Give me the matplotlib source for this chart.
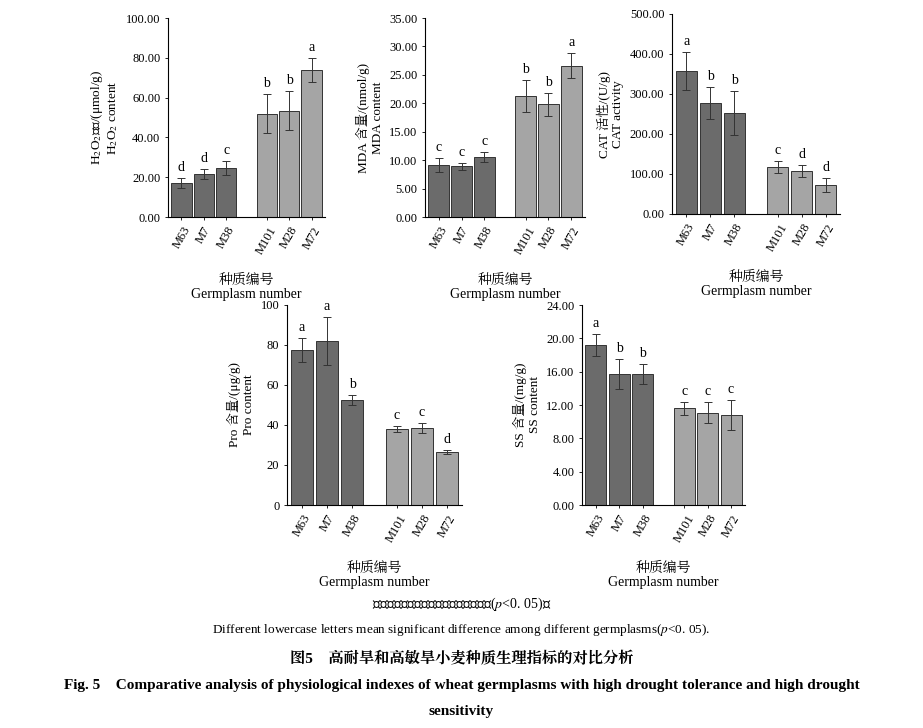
import matplotlib.pyplot as plt

plt.rcParams['font.family'] = ['Liberation Serif', 'Noto Serif CJK SC', 'Noto Sans CJK SC']
plt.rcParams['mathtext.fontset'] = 'stix'

germ = ['M63', 'M7', 'M38', 'M101', 'M28', 'M72']
h2o2 = [17.0, 21.5, 24.5, 52.0, 53.5, 74.0]
h2o2_err = [2.5, 2.5, 3.5, 10.0, 10.0, 6.0]
h2o2_sig = ['d', 'd', 'c', 'b', 'b', 'a']
mda = [9.2, 8.9, 10.5, 21.3, 19.8, 26.6]
mda_err = [1.2, 0.6, 0.9, 2.8, 2.0, 2.2]
mda_sig = ['c', 'c', 'c', 'b', 'b', 'a']
cat = [358, 278, 253, 118, 107, 73]
cat_err = [48, 40, 55, 15, 15, 18]
cat_sig = ['a', 'b', 'b', 'c', 'd', 'd']
pro = [77.5, 82.0, 52.5, 38.0, 38.5, 26.5]
pro_err = [6, 12, 2.5, 1.5, 2.5, 1.0]
pro_sig = ['a', 'a', 'b', 'c', 'c', 'd']
ss = [19.2, 15.7, 15.7, 11.6, 11.1, 10.8]
ss_err = [1.3, 1.8, 1.2, 0.8, 1.3, 1.8]
ss_sig = ['a', 'b', 'b', 'c', 'c', 'c']

pos = [0, 1, 2, 3.8, 4.8, 5.8]
cols = ['#6b6b6b'] * 3 + ['#a5a5a5'] * 3

fig = plt.figure(figsize=(9.23, 7.28), dpi=100)
W, H = 923, 728

def panel(x0, y0, x1, y1, vals, err, sig, ymax, step, fmt, ylab):
    ax = fig.add_axes([x0 / W, 1 - y1 / H, (x1 - x0) / W, (y1 - y0) / H])
    ax.bar(pos, vals, width=0.9, color=cols, edgecolor='#333333', linewidth=0.7,
           yerr=err, capsize=3, error_kw=dict(elinewidth=0.7, ecolor='#333333', capthick=0.7))
    for p, v, e, s in zip(pos, vals, err, sig):
        ax.text(p, v + e + ymax * 0.02, s, ha='center', va='bottom', fontsize=10)
    ax.set_ylim(0, ymax)
    ax.set_xlim(-0.6, 6.4)
    ticks = [i * step for i in range(int(round(ymax / step)) + 1)]
    ax.set_yticks(ticks)
    ax.set_yticklabels([fmt.format(t) for t in ticks], fontsize=9)
    ax.set_xticks(pos)
    ax.set_xticklabels(germ, rotation=60, fontsize=9, ha='center')
    for sp in ['top', 'right']:
        ax.spines[sp].set_visible(False)
    ax.tick_params(length=2, width=0.6)
    ax.set_ylabel(ylab, fontsize=9.5)
    ax.set_xlabel('种质编号\nGermplasm number', fontsize=10, labelpad=12)
    return ax

panel(168, 18, 325, 217, h2o2, h2o2_err, h2o2_sig, 100, 20, '{:.2f}',
      'H$_2$O$_2$含量/(μmol/g)\nH$_2$O$_2$ content')
panel(425, 18, 585, 217, mda, mda_err, mda_sig, 35, 5, '{:.2f}',
      'MDA 含量/(nmol/g)\nMDA content')
panel(672, 14, 840, 214, cat, cat_err, cat_sig, 500, 100, '{:.2f}',
      'CAT 活性/(U/g)\nCAT activity')
panel(287, 305, 462, 505, pro, pro_err, pro_sig, 100, 20, '{:.0f}',
      'Pro 含量/(μg/g)\nPro content')
panel(582, 305, 745, 505, ss, ss_err, ss_sig, 24, 4, '{:.2f}',
      'SS 含量/(mg/g)\nSS content')

fig.text(0.5, 1 - 604 / H, '不同小写字母表示不同种质间差异显著($p$<0. 05)。', ha='center', va='center', fontsize=10)
fig.text(0.5, 1 - 630 / H, 'Different lowercase letters mean significant difference among different germplasms($p$<0. 05).',
         ha='center', va='center', fontsize=9.5)
fig.text(0.5, 1 - 658 / H, '图5    高耐旱和高敏旱小麦种质生理指标的对比分析', ha='center', va='center',
         fontsize=11, fontweight='bold')
fig.text(0.5, 1 - 685 / H, 'Fig. 5    Comparative analysis of physiological indexes of wheat germplasms with high drought tolerance and high drought',
         ha='center', va='center', fontsize=11, fontweight='bold')
fig.text(0.5, 1 - 711 / H, 'sensitivity', ha='center', va='center', fontsize=11, fontweight='bold')

fig.savefig('out.png', dpi=100)
